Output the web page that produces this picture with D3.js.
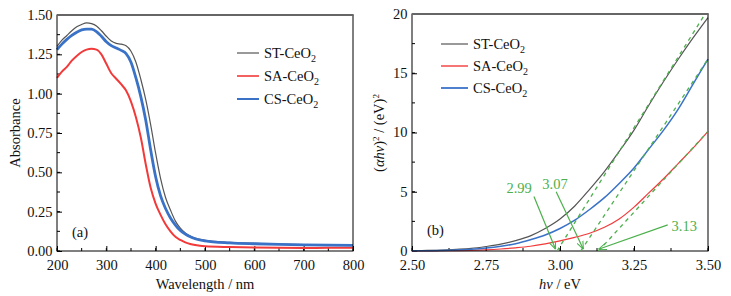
<!DOCTYPE html>
<html>
<head>
<meta charset="utf-8">
<script src="https://cdn.jsdelivr.net/npm/d3@7"></script>
<style>
  body { margin: 0; background: #fff; }
  svg text { font-family: "Liberation Serif", "DejaVu Serif", serif !important; }
</style>
</head>
<body>
<div id="chart"></div>
<script>
(function(){

// ---- data: (a) UV-vis absorbance ----
const wavelength = [200,210,220,230,240,250,260,270,280,290,300,310,320,330,340,350,360,370,380,390,400,410,420,430,440,450,460,470,480,500,550,600,650,700,750,800];
const absST = [1.30,1.34,1.37,1.40,1.425,1.44,1.45,1.445,1.43,1.40,1.365,1.335,1.32,1.315,1.305,1.27,1.20,1.09,0.96,0.80,0.62,0.46,0.34,0.26,0.19,0.145,0.115,0.095,0.082,0.068,0.055,0.048,0.044,0.040,0.038,0.036];
const absSA = [1.10,1.14,1.17,1.21,1.24,1.265,1.28,1.285,1.28,1.25,1.19,1.13,1.095,1.06,1.02,0.95,0.85,0.72,0.55,0.40,0.30,0.23,0.17,0.125,0.09,0.07,0.055,0.045,0.038,0.030,0.025,0.022,0.020,0.019,0.020,0.020];
const absCS = [1.28,1.315,1.345,1.37,1.39,1.405,1.41,1.41,1.395,1.365,1.33,1.305,1.29,1.275,1.255,1.20,1.10,0.98,0.83,0.64,0.47,0.35,0.27,0.21,0.165,0.13,0.107,0.09,0.078,0.065,0.052,0.046,0.042,0.039,0.037,0.036];

// ---- data: (b) Tauc plot ----
const energy = [2.50,2.55,2.60,2.65,2.70,2.75,2.80,2.85,2.90,2.95,3.00,3.05,3.10,3.15,3.20,3.25,3.30,3.35,3.40,3.45,3.50];
const taucST = [0.03,0.05,0.08,0.14,0.22,0.38,0.58,0.88,1.28,1.90,2.70,3.80,5.20,6.70,8.40,10.2,12.3,14.3,16.2,18.0,19.7];
const taucSA = [0.00,0.01,0.02,0.04,0.06,0.10,0.17,0.27,0.40,0.60,0.85,1.15,1.50,2.00,2.70,3.70,4.90,6.10,7.40,8.70,10.1];
const taucCS = [0.02,0.03,0.05,0.09,0.15,0.25,0.40,0.62,0.95,1.35,1.90,2.60,3.50,4.50,5.70,7.00,8.60,10.2,12.0,14.1,16.2];

// tangent lines [E0, v0, E1, v1]
const tangents = [[2.99,0,3.49,20.0],[3.07,0,3.50,16.2],[3.13,0,3.50,10.1]];
// band-gap annotations: label, label pos (E, v), arrow start -> end
const gapLabels = ["2.99","3.07","3.13"];
const gapText = [[2.862,4.9],[2.983,5.25],[3.377,1.65]];
const gapArrow = [[2.912,4.6,2.985,0.15],[2.987,5.0,3.079,0.15],[3.364,2.2,3.13,0.15]];

const seriesNames = ["ST-CeO", "SA-CeO", "CS-CeO"];
const colors = ["#555555", "#f23a3a", "#3a72c8"];
const green = "#4cb04c";
const FONT = '"Liberation Serif", "DejaVu Serif", serif';

const W = 731, H = 296;
const svg = d3.select("#chart").append("svg").attr("width", W).attr("height", H)
  .attr("font-family", FONT);

svg.append("defs").append("marker")
  .attr("id", "arr").attr("viewBox", "0 0 10 10")
  .attr("refX", 10).attr("refY", 5)
  .attr("markerWidth", 8).attr("markerHeight", 8)
  .attr("markerUnits", "userSpaceOnUse")
  .attr("orient", "auto")
  .append("path").attr("d", "M0,1 L10,5 L0,9")
  .attr("fill", "none").attr("stroke", green).attr("stroke-width", 1.3);

function panel(opt) {
  const x = d3.scaleLinear().domain(opt.xDomain).range([opt.left, opt.right]);
  const y = d3.scaleLinear().domain(opt.yDomain).range([opt.bottom, opt.top]);
  const g = svg.append("g");

  // minor ticks
  g.selectAll(".xm").data(d3.range(opt.xDomain[0], opt.xDomain[1] + 1e-9, opt.xMinor))
    .enter().append("line")
    .attr("x1", d => x(d)).attr("x2", d => x(d))
    .attr("y1", opt.bottom).attr("y2", opt.bottom - 3)
    .attr("stroke", "#000");
  g.selectAll(".ym").data(d3.range(opt.yDomain[0], opt.yDomain[1] + 1e-9, opt.yMinor))
    .enter().append("line")
    .attr("x1", opt.left).attr("x2", opt.left + 3)
    .attr("y1", d => y(d)).attr("y2", d => y(d))
    .attr("stroke", "#000");

  // major ticks + labels
  const xt = g.append("g").attr("transform", `translate(0,${opt.bottom})`)
    .call(d3.axisBottom(x).tickValues(opt.xTicks).tickFormat(opt.xFmt).tickSizeInner(-5).tickSizeOuter(0).tickPadding(9));
  const yt = g.append("g").attr("transform", `translate(${opt.left},0)`)
    .call(d3.axisLeft(y).tickValues(opt.yTicks).tickFormat(opt.yFmt).tickSizeInner(-5).tickSizeOuter(0).tickPadding(4.5));
  [xt, yt].forEach(a => {
    a.attr("font-family", FONT).attr("font-size", 14.5);
    a.select(".domain").remove();
    a.selectAll("text").attr("fill", "#111");
  });
  yt.selectAll("text").attr("dy", "0.3em");

  // curves
  const line = d3.line().x(d => x(d[0])).y(d => y(d[1])).curve(d3.curveMonotoneX);
  const plot = g.append("g");
  opt.series.forEach((s, i) => {
    plot.append("path")
      .datum(opt.xs.map((v, j) => [v, s[j]]))
      .attr("d", line)
      .attr("fill", "none")
      .attr("stroke", colors[i])
      .attr("stroke-width", opt.widths[i]);
  });

  // frame
  g.append("rect")
    .attr("x", opt.left).attr("y", opt.top)
    .attr("width", opt.right - opt.left).attr("height", opt.bottom - opt.top)
    .attr("fill", "none").attr("stroke", "#000").attr("stroke-width", 1);
  g.append("line")
    .attr("x1", opt.left).attr("x2", opt.right + 0.5)
    .attr("y1", opt.top).attr("y2", opt.top)
    .attr("stroke", "#666").attr("stroke-width", 2);

  // legend
  seriesNames.forEach((n, i) => {
    const ly = opt.legY + i * opt.legStep;
    g.append("line")
      .attr("x1", opt.legX).attr("x2", opt.legX + opt.legLen)
      .attr("y1", ly).attr("y2", ly)
      .attr("stroke", colors[i]).attr("stroke-width", opt.legW[i]);
    const t = g.append("text")
      .attr("x", opt.legX + opt.legLen + 5).attr("y", ly + 5)
      .attr("font-size", 14.5).attr("fill", "#111");
    t.append("tspan").text(n);
    t.append("tspan").attr("font-size", 10).attr("dy", 4).text("2");
  });

  // panel tag
  g.append("text").attr("x", opt.tagX).attr("y", opt.tagY)
    .attr("font-size", 14.5).attr("fill", "#111").text(opt.tag);

  return {x, y, g};
}

// ---- panel (a) ----
const a = panel({
  left: 57, right: 353, top: 15, bottom: 251,
  xDomain: [200, 800], yDomain: [0, 1.5],
  xTicks: d3.range(200, 801, 100), yTicks: d3.range(0, 1.51, 0.25),
  xMinor: 50, yMinor: 0.125,
  xFmt: d3.format("d"), yFmt: d3.format(".2f"),
  xs: wavelength, series: [absST, absSA, absCS], widths: [1.2, 2, 2.8],
  legX: 237, legY: 53, legStep: 23, legLen: 22, legW: [1.2, 1.6, 2],
  tag: "(a)", tagX: 72, tagY: 237
});
svg.append("text").attr("x", 205).attr("y", 289).attr("text-anchor", "middle")
  .attr("font-size", 14.5).attr("fill", "#111").text("Wavelength / nm");
svg.append("text").attr("transform", "translate(20,133) rotate(-90)").attr("text-anchor", "middle")
  .attr("font-size", 14.5).attr("fill", "#111").text("Absorbance");

// ---- panel (b) ----
const b = panel({
  left: 412, right: 708, top: 14, bottom: 251,
  xDomain: [2.5, 3.5], yDomain: [0, 20],
  xTicks: d3.range(2.5, 3.51, 0.25), yTicks: d3.range(0, 21, 5),
  xMinor: 0.125, yMinor: 2.5,
  xFmt: d3.format(".2f"), yFmt: d3.format("d"),
  xs: energy, series: [taucST, taucSA, taucCS], widths: [1.2, 1.2, 1.5],
  legX: 441, legY: 44, legStep: 22, legLen: 27, legW: [1.2, 1.4, 1.8],
  tag: "(b)", tagX: 427, tagY: 235
});

// tangent dashed lines
b.g.selectAll(".tan").data(tangents).enter().append("line")
  .attr("x1", d => b.x(d[0])).attr("y1", d => b.y(d[1]))
  .attr("x2", d => b.x(d[2])).attr("y2", d => b.y(d[3]))
  .attr("stroke", green).attr("stroke-width", 1.3).attr("stroke-dasharray", "4,4");

// arrows + labels
b.g.selectAll(".arw").data(gapArrow).enter().append("line")
  .attr("x1", d => b.x(d[0])).attr("y1", d => b.y(d[1]))
  .attr("x2", d => b.x(d[2])).attr("y2", d => b.y(d[3]))
  .attr("stroke", green).attr("stroke-width", 1.2).attr("marker-end", "url(#arr)");
b.g.selectAll(".gl").data(gapLabels).enter().append("text")
  .attr("x", (d, i) => b.x(gapText[i][0])).attr("y", (d, i) => b.y(gapText[i][1]))
  .attr("text-anchor", (d, i) => i === 2 ? "start" : "middle")
  .attr("font-size", 14.5).attr("fill", green).text(d => d);

const xl = svg.append("text").attr("x", 560).attr("y", 289).attr("text-anchor", "middle")
  .attr("font-size", 14.5).attr("fill", "#111");
xl.append("tspan").attr("font-style", "italic").text("hν");
xl.append("tspan").text(" / eV");

const yl = svg.append("text").attr("transform", "translate(384,133) rotate(-90)").attr("text-anchor", "middle")
  .attr("font-size", 14.5).attr("fill", "#111");
yl.append("tspan").text("(");
yl.append("tspan").attr("font-style", "italic").text("αhν");
yl.append("tspan").text(")");
yl.append("tspan").attr("font-size", 9).attr("dy", -5).text("2");
yl.append("tspan").attr("dy", 5).text(" / (eV)");
yl.append("tspan").attr("font-size", 9).attr("dy", -5).text("2");

})();
</script>
</body>
</html>
